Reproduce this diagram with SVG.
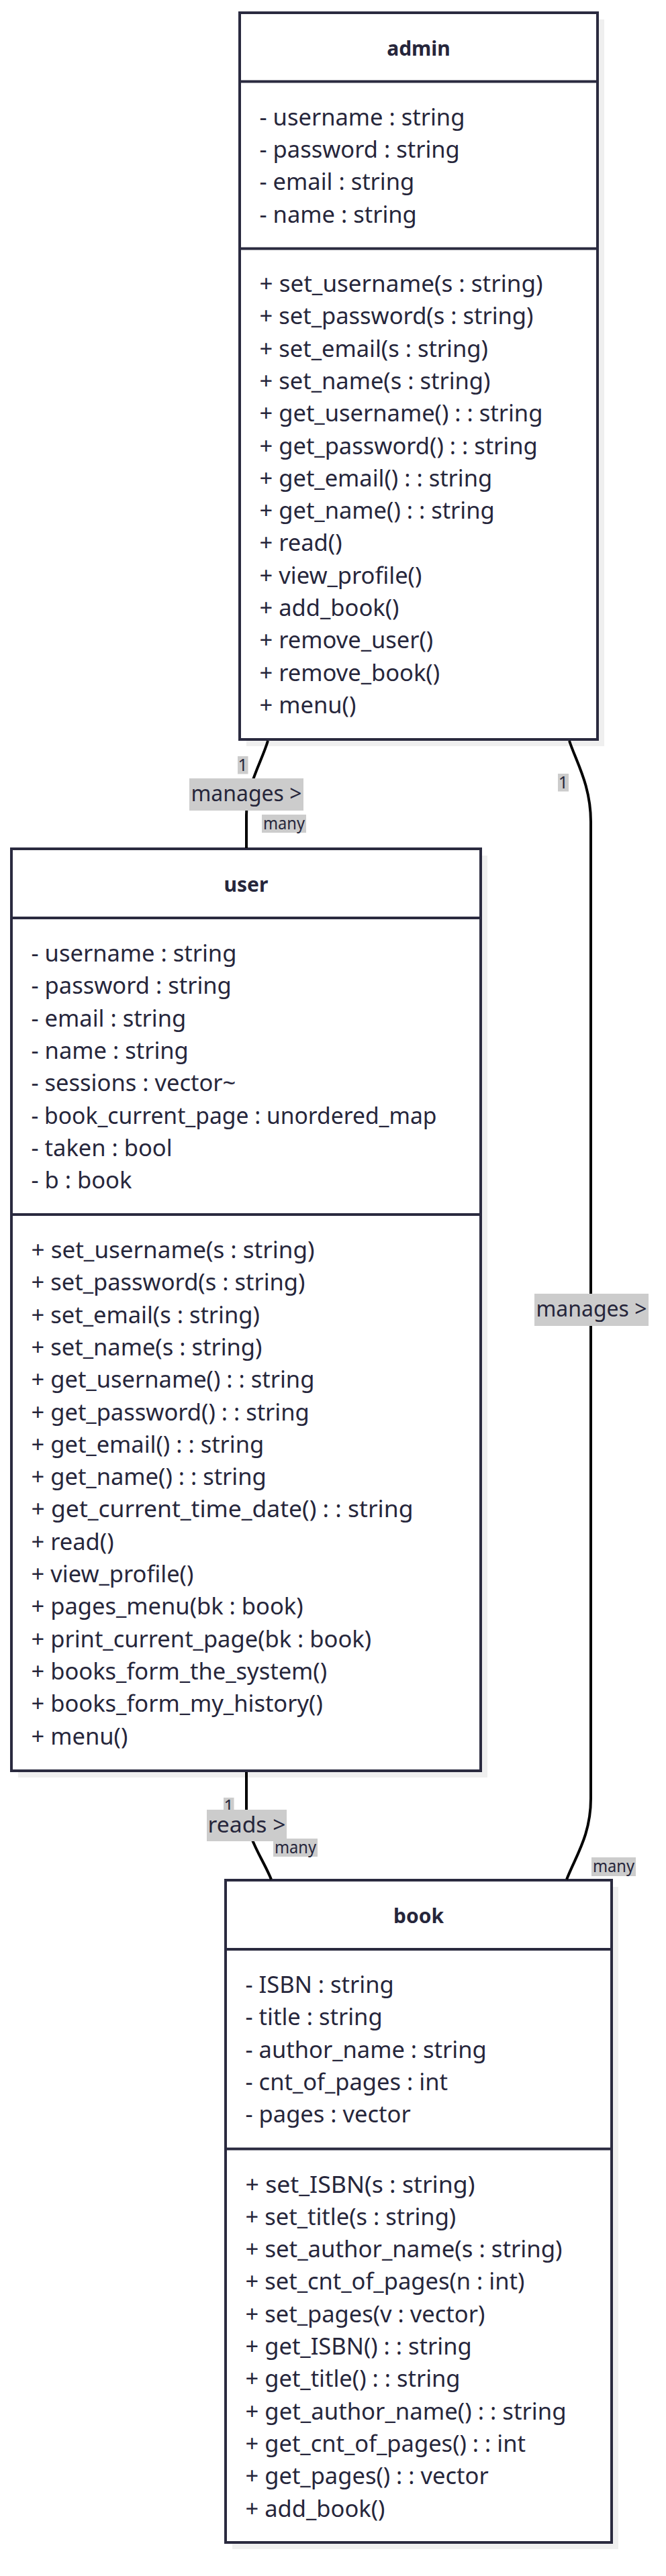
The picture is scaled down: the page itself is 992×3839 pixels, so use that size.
<svg xmlns="http://www.w3.org/2000/svg" width="992" height="3839" viewBox="0 0 992 3839">
<style>
.bg{fill:#ffffff}
.shadow{fill:#efefef}
.box{fill:#ffffff;stroke:#2a2a3f;stroke-width:4}
.div{stroke:#2a2a3f;stroke-width:4}
.title{font-family:"Noto Sans","Liberation Sans",sans-serif;font-size:30px;font-weight:bold;fill:#26263b;text-anchor:middle}
.mem{font-family:"Noto Sans","Liberation Sans",sans-serif;font-size:34.5px;fill:#26263b}
.edge{fill:none;stroke:#000000;stroke-width:4}
.lblbg{fill:#cccccc}
.lbl{font-family:"Noto Sans","Liberation Sans",sans-serif;font-size:33px;fill:#26263b;text-anchor:middle}
.card{font-family:"Noto Sans","Liberation Sans",sans-serif;font-size:25px;fill:#26263b;text-anchor:middle}
</style>
<rect class="bg" x="0" y="0" width="992" height="3839"/>

<g id="admin">
<rect class="shadow" x="367" y="29" width="533" height="1083"/>
<rect class="box" x="357" y="19" width="533" height="1083"/>
<line class="div" x1="357" y1="121.5" x2="890" y2="121.5"/>
<line class="div" x1="357" y1="370.5" x2="890" y2="370.5"/>
<text class="title" x="623.5" y="83">admin</text>
<text class="mem" x="386.5" y="186.7">- username : string</text>
<text class="mem" x="386.5" y="235">- password : string</text>
<text class="mem" x="386.5" y="283.3">- email : string</text>
<text class="mem" x="386.5" y="331.6">- name : string</text>
<text class="mem" x="386.5" y="435" textLength="422" lengthAdjust="spacingAndGlyphs">+ set_username(s : string)</text>
<text class="mem" x="386.5" y="483.3">+ set_password(s : string)</text>
<text class="mem" x="386.5" y="531.6">+ set_email(s : string)</text>
<text class="mem" x="386.5" y="579.9">+ set_name(s : string)</text>
<text class="mem" x="386.5" y="628.2">+ get_username() : : string</text>
<text class="mem" x="386.5" y="676.5">+ get_password() : : string</text>
<text class="mem" x="386.5" y="724.8">+ get_email() : : string</text>
<text class="mem" x="386.5" y="773.1">+ get_name() : : string</text>
<text class="mem" x="386.5" y="821.4">+ read()</text>
<text class="mem" x="386.5" y="869.7">+ view_profile()</text>
<text class="mem" x="386.5" y="918">+ add_book()</text>
<text class="mem" x="386.5" y="966.3">+ remove_user()</text>
<text class="mem" x="386.5" y="1014.6">+ remove_book()</text>
<text class="mem" x="386.5" y="1062.9">+ menu()</text>
</g>

<g id="user">
<rect class="shadow" x="27" y="1275" width="699" height="1374"/>
<rect class="box" x="17" y="1265" width="699" height="1374"/>
<line class="div" x1="17" y1="1368" x2="716" y2="1368"/>
<line class="div" x1="17" y1="1810" x2="716" y2="1810"/>
<text class="title" x="366.5" y="1329">user</text>
<text class="mem" x="46.5" y="1433">- username : string</text>
<text class="mem" x="46.5" y="1481.3">- password : string</text>
<text class="mem" x="46.5" y="1529.6">- email : string</text>
<text class="mem" x="46.5" y="1577.9">- name : string</text>
<text class="mem" x="46.5" y="1626.2">- sessions : vector~</text>
<text class="mem" x="46.5" y="1674.5" textLength="604" lengthAdjust="spacingAndGlyphs">- book_current_page : unordered_map</text>
<text class="mem" x="46.5" y="1722.8">- taken : bool</text>
<text class="mem" x="46.5" y="1771.1">- b : book</text>
<text class="mem" x="46.5" y="1875" textLength="422" lengthAdjust="spacingAndGlyphs">+ set_username(s : string)</text>
<text class="mem" x="46.5" y="1923.3">+ set_password(s : string)</text>
<text class="mem" x="46.5" y="1971.6">+ set_email(s : string)</text>
<text class="mem" x="46.5" y="2019.9">+ set_name(s : string)</text>
<text class="mem" x="46.5" y="2068.2">+ get_username() : : string</text>
<text class="mem" x="46.5" y="2116.5">+ get_password() : : string</text>
<text class="mem" x="46.5" y="2164.8">+ get_email() : : string</text>
<text class="mem" x="46.5" y="2213.1">+ get_name() : : string</text>
<text class="mem" x="46.5" y="2261.4" textLength="569" lengthAdjust="spacingAndGlyphs">+ get_current_time_date() : : string</text>
<text class="mem" x="46.5" y="2309.7">+ read()</text>
<text class="mem" x="46.5" y="2358">+ view_profile()</text>
<text class="mem" x="46.5" y="2406.3">+ pages_menu(bk : book)</text>
<text class="mem" x="46.5" y="2454.6">+ print_current_page(bk : book)</text>
<text class="mem" x="46.5" y="2502.9">+ books_form_the_system()</text>
<text class="mem" x="46.5" y="2551.2">+ books_form_my_history()</text>
<text class="mem" x="46.5" y="2599.5">+ menu()</text>
</g>

<g id="book">
<rect class="shadow" x="346" y="2812" width="575" height="987"/>
<rect class="box" x="336" y="2802" width="575" height="987"/>
<line class="div" x1="336" y1="2905" x2="911" y2="2905"/>
<line class="div" x1="336" y1="3202.5" x2="911" y2="3202.5"/>
<text class="title" x="623.5" y="2866">book</text>
<text class="mem" x="365.5" y="2970">- ISBN : string</text>
<text class="mem" x="365.5" y="3018.3">- title : string</text>
<text class="mem" x="365.5" y="3066.6">- author_name : string</text>
<text class="mem" x="365.5" y="3114.9">- cnt_of_pages : int</text>
<text class="mem" x="365.5" y="3163.2">- pages : vector</text>
<text class="mem" x="365.5" y="3267.5" textLength="342" lengthAdjust="spacingAndGlyphs">+ set_ISBN(s : string)</text>
<text class="mem" x="365.5" y="3315.8">+ set_title(s : string)</text>
<text class="mem" x="365.5" y="3364.1" textLength="472" lengthAdjust="spacingAndGlyphs">+ set_author_name(s : string)</text>
<text class="mem" x="365.5" y="3412.4">+ set_cnt_of_pages(n : int)</text>
<text class="mem" x="365.5" y="3460.7">+ set_pages(v : vector)</text>
<text class="mem" x="365.5" y="3509">+ get_ISBN() : : string</text>
<text class="mem" x="365.5" y="3557.3">+ get_title() : : string</text>
<text class="mem" x="365.5" y="3605.6" textLength="478" lengthAdjust="spacingAndGlyphs">+ get_author_name() : : string</text>
<text class="mem" x="365.5" y="3653.9">+ get_cnt_of_pages() : : int</text>
<text class="mem" x="365.5" y="3702.2">+ get_pages() : : vector</text>
<text class="mem" x="365.5" y="3750.5">+ add_book()</text>
</g>

<g id="connectors">
<path class="edge" d="M399,1104 C390,1135 367,1170 367,1215 L367,1264"/>
<path class="edge" d="M848,1104 C858,1135 880,1170 880,1225 L880,2680 C880,2735 858,2765 844,2801"/>
<path class="edge" d="M367,2641 L367,2700 C367,2740 392,2770 404,2801"/>

<rect class="lblbg" x="354" y="1127" width="15.5" height="26.5"/>
<text class="card" x="361.7" y="1149">1</text>
<rect class="lblbg" x="282" y="1160" width="170" height="48"/>
<text class="lbl" x="367" y="1194" textLength="165" lengthAdjust="spacingAndGlyphs">manages &gt;</text>
<rect class="lblbg" x="390" y="1214" width="66" height="27"/>
<text class="card" x="423" y="1236" textLength="62" lengthAdjust="spacingAndGlyphs">many</text>

<rect class="lblbg" x="831" y="1153" width="16" height="26.5"/>
<text class="card" x="839" y="1175">1</text>
<rect class="lblbg" x="796" y="1928" width="170" height="48"/>
<text class="lbl" x="881" y="1962" textLength="165" lengthAdjust="spacingAndGlyphs">manages &gt;</text>
<rect class="lblbg" x="881" y="2768" width="66" height="28"/>
<text class="card" x="914" y="2790" textLength="62" lengthAdjust="spacingAndGlyphs">many</text>

<rect class="lblbg" x="333" y="2679" width="15.5" height="27"/>
<text class="card" x="340.7" y="2700">1</text>
<rect class="lblbg" x="308" y="2697" width="119" height="47"/>
<text class="lbl" x="367.5" y="2731" textLength="116" lengthAdjust="spacingAndGlyphs">reads &gt;</text>
<rect class="lblbg" x="407" y="2740" width="66" height="27"/>
<text class="card" x="440" y="2762" textLength="62" lengthAdjust="spacingAndGlyphs">many</text>
</g>
</svg>
